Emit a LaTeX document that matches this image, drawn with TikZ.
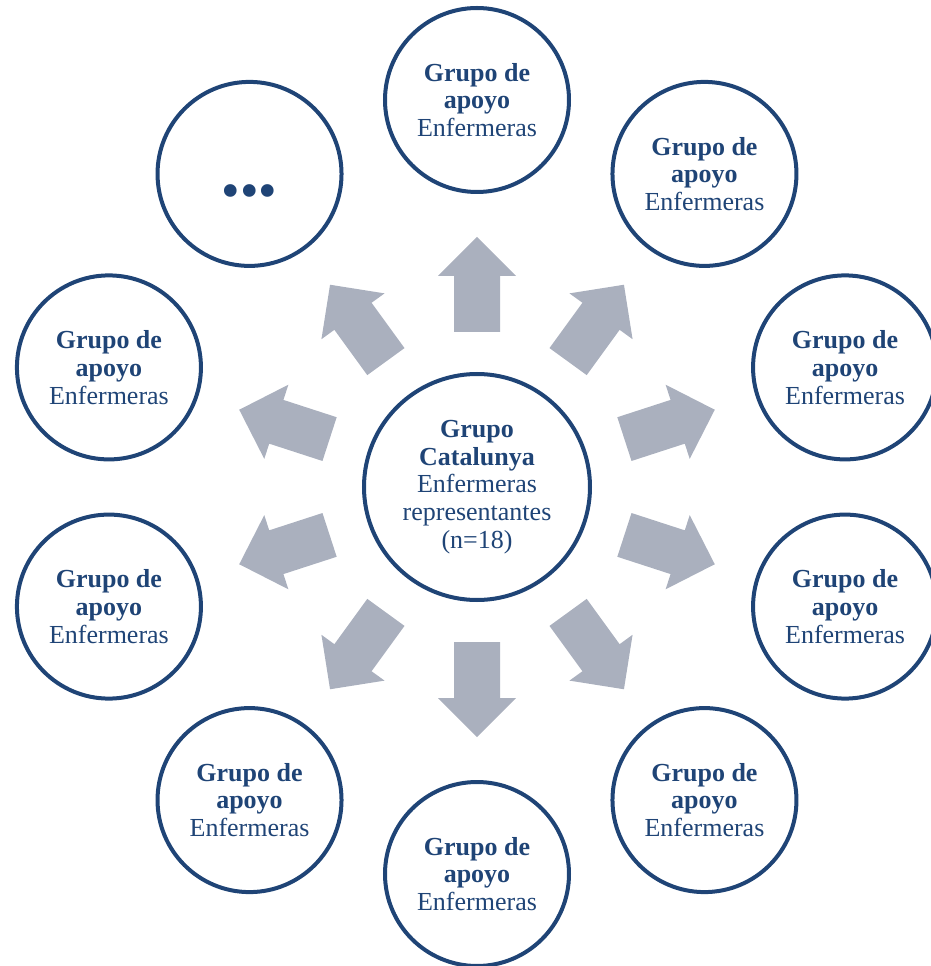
\documentclass[tikz,border=0pt]{standalone}
\usepackage{fontspec}
\setmainfont{Liberation Serif}
\usetikzlibrary{positioning}
\definecolor{darkblue}{HTML}{1F4476}
\definecolor{arrowgray}{HTML}{AAB0BE}

\begin{document}
\begin{tikzpicture}[x=1pt,y=1pt]
	\tikzset{GroupStyle/.style = {
			shape=circle,
			draw=darkblue,
			line width=4pt,
			minimum size=184pt,
			inner sep=0pt,
			align=center,
			text=darkblue,
			font=\fontsize{26}{27.7}\selectfont
	}}
	\tikzset{ArrowStyle/.style = {fill=arrowgray}}
	\useasboundingbox (-477,-479) rectangle (453,487);
	
	\node[GroupStyle, minimum size=226pt] (c) at (0,0) {\textbf{Grupo}\\ \textbf{Catalunya}\\ Enfermeras\\ representantes\\ (n=18)};
	
	\foreach \a [count=\i] in {90,54,18,-18,-54,-90,-126,-162,162}
		\node[GroupStyle] (g\i) at (\a:387) {\textbf{Grupo de}\\ \textbf{apoyo}\\ Enfermeras};
	\node[GroupStyle, font=\fontsize{53}{53}\selectfont] (g10) at (126:387) {\raisebox{-35pt}[0pt][0pt]{\textbullet\textbullet\textbullet}};
	
	\foreach \a in {90,54,...,-234}
		\fill[ArrowStyle, rotate=\a] (155,-23) -- (211,-23) -- (211,-39) -- (250,0) -- (211,39) -- (211,23) -- (155,23) -- cycle;
\end{tikzpicture}
\end{document}
